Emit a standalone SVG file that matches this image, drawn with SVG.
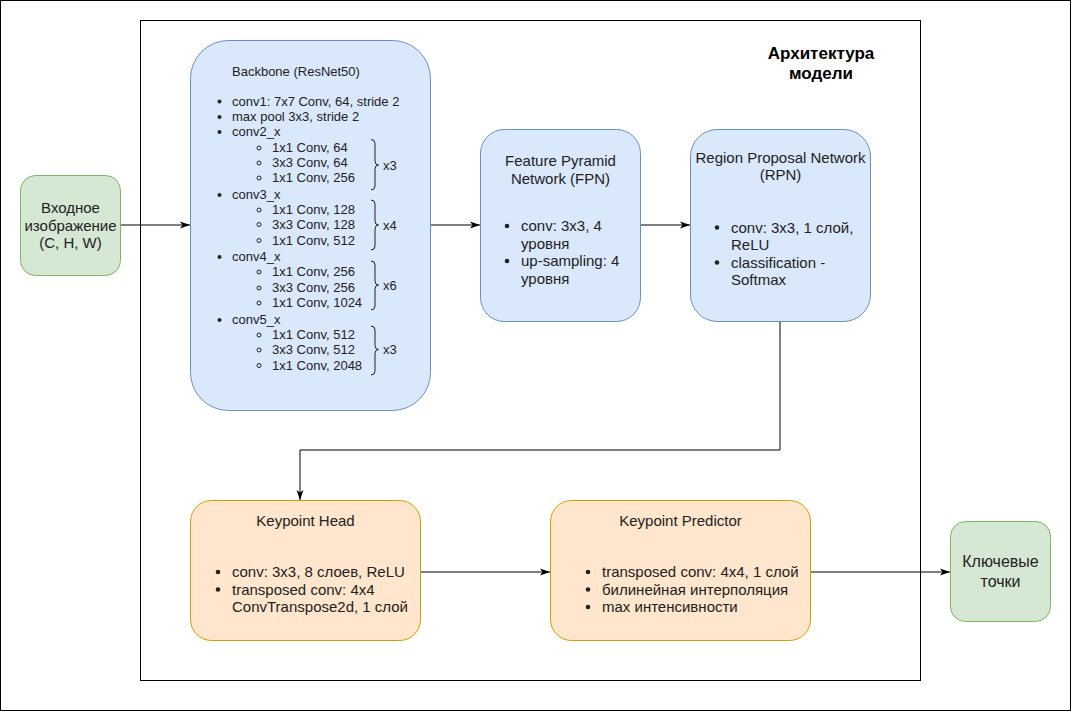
<svg xmlns="http://www.w3.org/2000/svg" width="1071" height="711" viewBox="0 0 1071 711">
<style>
text{font-family:"Liberation Sans",Arial,sans-serif;fill:#222}
.b{font-size:13px}
.m{font-size:15px}
.o{font-size:16px}
.c{text-anchor:middle}
.t{font-size:17px;font-weight:bold;fill:#000}
.blue{fill:#dae8fc;stroke:#6c8ebf;stroke-width:1}
.org{fill:#ffe6cc;stroke:#d79b00;stroke-width:1}
.grn{fill:#d5e8d4;stroke:#82b366;stroke-width:1}
.frame{fill:none;stroke:#000;stroke-width:1}
.dot{fill:#222}
.ring{fill:none;stroke:#222;stroke-width:1}
.brace{fill:none;stroke:#222;stroke-width:1}
.edge{fill:none;stroke:#000;stroke-width:1}
</style>
<defs>
<marker id="arr" markerUnits="userSpaceOnUse" markerWidth="11" markerHeight="9" refX="10" refY="4" orient="auto">
<path d="M0,0.5 L10,4 L0,7.5 L2.5,4 Z" fill="#000"/>
</marker>
</defs>
<rect x="0.5" y="0.5" width="1070" height="710" fill="#fff" stroke="#000"/>
<g id="frame">
<rect class="frame" x="140.5" y="20.5" width="780" height="660"/>
<text class="t c" x="821" y="59">Архитектура</text>
<text class="t c" x="821" y="79">модели</text>
</g>
<g id="edges">
<path class="edge" d="M120 225 H190" marker-end="url(#arr)"/>
<path class="edge" d="M430 225 H480" marker-end="url(#arr)"/>
<path class="edge" d="M640 225 H690" marker-end="url(#arr)"/>
<path class="edge" d="M780 321 V450 H300 V500" marker-end="url(#arr)"/>
<path class="edge" d="M420 572 H550" marker-end="url(#arr)"/>
<path class="edge" d="M810 572 H950" marker-end="url(#arr)"/>
</g>
<g id="input">
<rect class="grn" x="20.5" y="175.5" width="100" height="100" rx="15"/>
<text class="m c" x="70.5" y="213">Входное</text>
<text class="m c" x="70.5" y="230.5">изображение</text>
<text class="m c" x="70.5" y="248">(C, H, W)</text>
</g>
<g id="backbone">
<rect class="blue" x="190.5" y="40.5" width="240" height="370" rx="38"/>
<text class="b" x="232" y="76">Backbone (ResNet50)</text>
<circle class="dot" cx="219.5" cy="101.5" r="2"/><text class="b" x="232" y="105.5">conv1: 7x7 Conv, 64, stride 2</text>
<circle class="dot" cx="219.5" cy="117" r="2"/><text class="b" x="232" y="121">max pool 3x3, stride 2</text>
<circle class="dot" cx="219.5" cy="132" r="2"/><text class="b" x="232" y="136">conv2_x</text>
<circle class="ring" cx="259" cy="148" r="2"/><text class="b" x="272" y="152">1x1 Conv, 64</text>
<circle class="ring" cx="259" cy="163" r="2"/><text class="b" x="272" y="167">3x3 Conv, 64</text>
<circle class="ring" cx="259" cy="178" r="2"/><text class="b" x="272" y="182">1x1 Conv, 256</text>
<circle class="dot" cx="219.5" cy="195" r="2"/><text class="b" x="232" y="199">conv3_x</text>
<circle class="ring" cx="259" cy="210" r="2"/><text class="b" x="272" y="214">1x1 Conv, 128</text>
<circle class="ring" cx="259" cy="224.5" r="2"/><text class="b" x="272" y="228.5">3x3 Conv, 128</text>
<circle class="ring" cx="259" cy="240.5" r="2"/><text class="b" x="272" y="244.5">1x1 Conv, 512</text>
<circle class="dot" cx="219.5" cy="257" r="2"/><text class="b" x="232" y="261">conv4_x</text>
<circle class="ring" cx="259" cy="272" r="2"/><text class="b" x="272" y="276">1x1 Conv, 256</text>
<circle class="ring" cx="259" cy="288" r="2"/><text class="b" x="272" y="292">3x3 Conv, 256</text>
<circle class="ring" cx="259" cy="303" r="2"/><text class="b" x="272" y="307">1x1 Conv, 1024</text>
<circle class="dot" cx="219.5" cy="320" r="2"/><text class="b" x="232" y="324">conv5_x</text>
<circle class="ring" cx="259" cy="335" r="2"/><text class="b" x="272" y="339">1x1 Conv, 512</text>
<circle class="ring" cx="259" cy="350" r="2"/><text class="b" x="272" y="354">3x3 Conv, 512</text>
<circle class="ring" cx="259" cy="365.5" r="2"/><text class="b" x="272" y="369.5">1x1 Conv, 2048</text>
<path class="brace" d="M371 139.5 Q375 139.5 375 143.5 V161 Q375 165 378.5 165 Q375 165 375 169 V186 Q375 190 371 190"/>
<text class="b" x="383" y="169.5">x3</text>
<path class="brace" d="M371 200 Q375 200 375 204 V221 Q375 225 378.5 225 Q375 225 375 229 V246 Q375 250 371 250"/>
<text class="b" x="383" y="229.5">x4</text>
<path class="brace" d="M371 261 Q375 261 375 265 V281 Q375 285 378.5 285 Q375 285 375 289 V306 Q375 310 371 310"/>
<text class="b" x="383" y="289.5">x6</text>
<path class="brace" d="M371 326 Q375 326 375 330 V345.5 Q375 349.5 378.5 349.5 Q375 349.5 375 353.5 V371 Q375 375 371 375"/>
<text class="b" x="383" y="354">x3</text>
</g>
<g id="fpn">
<rect class="blue" x="480.5" y="129.5" width="160" height="192" rx="24"/>
<text class="m c" x="560.5" y="166">Feature Pyramid</text>
<text class="m c" x="560.5" y="183.5">Network (FPN)</text>
<circle class="dot" cx="507" cy="226" r="2.3"/><text class="m" x="521" y="231">conv: 3x3, 4</text>
<text class="m" x="521" y="248.5">уровня</text>
<circle class="dot" cx="507" cy="261" r="2.3"/><text class="m" x="521" y="266">up-sampling: 4</text>
<text class="m" x="521" y="283.5">уровня</text>
</g>
<g id="rpn">
<rect class="blue" x="690.5" y="129.5" width="180" height="192" rx="27"/>
<text class="m c" x="780.5" y="162.5">Region Proposal Network</text>
<text class="m c" x="780.5" y="180">(RPN)</text>
<circle class="dot" cx="717" cy="227.5" r="2.3"/><text class="m" x="731" y="232.5">conv: 3x3, 1 слой,</text>
<text class="m" x="731" y="250">ReLU</text>
<circle class="dot" cx="717" cy="262.5" r="2.3"/><text class="m" x="731" y="267.5">classification -</text>
<text class="m" x="731" y="285">Softmax</text>
</g>
<g id="keypoint-head">
<rect class="org" x="190.5" y="500.5" width="230" height="140" rx="21"/>
<text class="m c" x="305.5" y="526">Keypoint Head</text>
<circle class="dot" cx="218" cy="572" r="2.3"/><text class="m" x="232" y="577">conv: 3x3, 8 слоев, ReLU</text>
<circle class="dot" cx="218" cy="589.5" r="2.3"/><text class="m" x="232" y="594.5">transposed conv: 4x4</text>
<text class="m" x="232" y="612">ConvTranspose2d, 1 слой</text>
</g>
<g id="keypoint-predictor">
<rect class="org" x="550.5" y="500.5" width="260" height="140" rx="21"/>
<text class="m c" x="680.5" y="526">Keypoint Predictor</text>
<circle class="dot" cx="588" cy="572" r="2.3"/><text class="m" x="602" y="577">transposed conv: 4x4, 1 слой</text>
<circle class="dot" cx="588" cy="589.5" r="2.3"/><text class="m" x="602" y="594.5">билинейная интерполяция</text>
<circle class="dot" cx="588" cy="607" r="2.3"/><text class="m" x="602" y="612">max интенсивности</text>
</g>
<g id="output">
<rect class="grn" x="950.5" y="521.5" width="100" height="100" rx="15"/>
<text class="o c" x="1000.5" y="567">Ключевые</text>
<text class="o c" x="1000.5" y="586.5">точки</text>
</g>
</svg>
